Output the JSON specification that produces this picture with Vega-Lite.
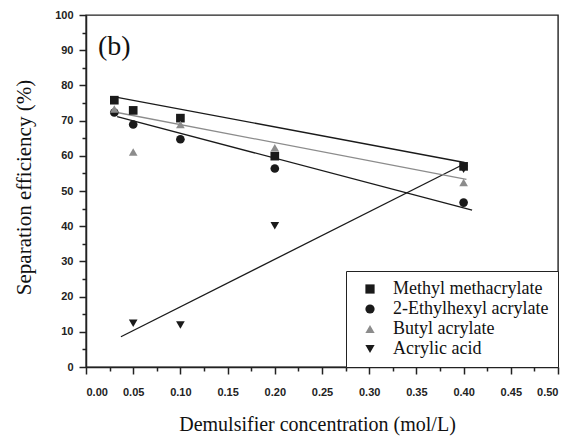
{
  "$schema": "https://vega.github.io/schema/vega-lite/v6.json",
  "width": 472,
  "height": 352,
  "autosize": "none",
  "padding": {"left": 86, "top": 15, "right": 13, "bottom": 70},
  "background": "white",
  "config": {
    "view": {"stroke": "#222", "strokeWidth": 1.4},
    "axis": {
      "domainColor": "#222", "domainWidth": 1.5, "tickColor": "#222", "tickWidth": 1.5,
      "labelColor": "#222", "labelFont": "Liberation Sans", "labelFontWeight": "bold", "labelFontSize": 11,
      "titleFont": "Liberation Serif", "titleFontWeight": "normal", "titleColor": "#111",
      "grid": false
    },
    "legend": {
      "labelFont": "Liberation Serif", "labelFontSize": 18, "labelColor": "#111",
      "strokeColor": "#222", "fillColor": "white", "padding": 9, "rowPadding": 2,
      "symbolSize": 85, "symbolOffset": 6, "labelOffset": 14
    }
  },
  "datasets": {
    "pts": [
      {"c": 0.03, "e": 75.8, "s": "Methyl methacrylate"},
      {"c": 0.05, "e": 72.9, "s": "Methyl methacrylate"},
      {"c": 0.10, "e": 70.7, "s": "Methyl methacrylate"},
      {"c": 0.20, "e": 59.9, "s": "Methyl methacrylate"},
      {"c": 0.40, "e": 57.0, "s": "Methyl methacrylate"},
      {"c": 0.03, "e": 72.3, "s": "2-Ethylhexyl acrylate"},
      {"c": 0.05, "e": 68.9, "s": "2-Ethylhexyl acrylate"},
      {"c": 0.10, "e": 64.7, "s": "2-Ethylhexyl acrylate"},
      {"c": 0.20, "e": 56.4, "s": "2-Ethylhexyl acrylate"},
      {"c": 0.40, "e": 46.7, "s": "2-Ethylhexyl acrylate"},
      {"c": 0.03, "e": 73.3, "s": "Butyl acrylate"},
      {"c": 0.05, "e": 61.1, "s": "Butyl acrylate"},
      {"c": 0.10, "e": 68.9, "s": "Butyl acrylate"},
      {"c": 0.20, "e": 62.3, "s": "Butyl acrylate"},
      {"c": 0.40, "e": 52.4, "s": "Butyl acrylate"},
      {"c": 0.05, "e": 12.4, "s": "Acrylic acid"},
      {"c": 0.10, "e": 11.9, "s": "Acrylic acid"},
      {"c": 0.20, "e": 40.1, "s": "Acrylic acid"},
      {"c": 0.40, "e": 56.2, "s": "Acrylic acid"}
    ],
    "fits": [
      {"c": 0.033, "e": 76.6, "s": "Methyl methacrylate"},
      {"c": 0.401, "e": 58.1, "s": "Methyl methacrylate"},
      {"c": 0.033, "e": 71.1, "s": "2-Ethylhexyl acrylate"},
      {"c": 0.409, "e": 44.6, "s": "2-Ethylhexyl acrylate"},
      {"c": 0.033, "e": 72.3, "s": "Butyl acrylate"},
      {"c": 0.403, "e": 53.3, "s": "Butyl acrylate"},
      {"c": 0.037, "e": 8.6, "s": "Acrylic acid"},
      {"c": 0.400, "e": 57.6, "s": "Acrylic acid"}
    ],
    "label": [{"c": 0.0127, "e": 90.8, "t": "(b)"}]
  },
  "encoding": {
    "x": {"field": "c", "type": "quantitative", "scale": {"domain": [0, 0.5], "nice": false},
      "axis": {"orient": "bottom",
        "values": [0, 0.025, 0.05, 0.075, 0.1, 0.125, 0.15, 0.175, 0.2, 0.225, 0.25, 0.275, 0.3, 0.325, 0.35, 0.375, 0.4, 0.425, 0.45, 0.475, 0.5],
        "labelExpr": "round(datum.value*1000) % 50 == 0 ? format(datum.value, '.2f') : ''",
        "tickSize": {"condition": {"test": "round(datum.value*1000) % 50 != 0", "value": 4}, "value": 7},
        "labelPadding": 12, "title": "Demulsifier concentration (mol/L)", "titleFontSize": 20, "titlePadding": 17, "titleX": 231}},
    "y": {"field": "e", "type": "quantitative", "scale": {"domain": [0, 100], "nice": false},
      "axis": {"orient": "left",
        "values": [0, 5, 10, 15, 20, 25, 30, 35, 40, 45, 50, 55, 60, 65, 70, 75, 80, 85, 90, 95, 100],
        "labelExpr": "datum.value % 10 == 0 ? datum.label : ''",
        "tickSize": {"condition": {"test": "datum.value % 10 != 0", "value": 4}, "value": 7},
        "labelPadding": 6, "title": "Separation efficiency (%)", "titleFontSize": 21, "titlePadding": 20, "titleY": 172}}
  },
  "layer": [
    {
      "data": {"name": "fits"},
      "transform": [{"filter": "datum.s != 'Butyl acrylate'"}],
      "mark": {"type": "line", "strokeWidth": 1.3, "stroke": "#1a1a1a"},
      "encoding": {"detail": {"field": "s"}}
    },
    {
      "data": {"name": "fits"},
      "transform": [{"filter": "datum.s == 'Butyl acrylate'"}],
      "mark": {"type": "line", "strokeWidth": 1.3, "stroke": "#8c8c8c"},
      "encoding": {}
    },
    {
      "data": {"name": "pts"},
      "mark": {"type": "point", "filled": true, "opacity": 1, "size": 75},
      "encoding": {
        "shape": {"field": "s", "type": "nominal",
          "scale": {"domain": ["Methyl methacrylate", "2-Ethylhexyl acrylate", "Butyl acrylate", "Acrylic acid"], "range": ["square", "circle", "triangle-up", "triangle-down"]},
          "legend": {"title": null, "orient": "bottom-right", "offset": 0}},
        "color": {"field": "s", "type": "nominal",
          "scale": {"domain": ["Methyl methacrylate", "2-Ethylhexyl acrylate", "Butyl acrylate", "Acrylic acid"], "range": ["#1a1a1a", "#1a1a1a", "#8c8c8c", "#1a1a1a"]},
          "legend": {"title": null, "orient": "bottom-right", "offset": 0}}
      }
    },
    {
      "data": {"name": "label"},
      "mark": {"type": "text", "align": "left", "baseline": "middle", "font": "Liberation Serif", "fontSize": 28, "color": "#111"},
      "encoding": {
        "text": {"field": "t"}
      }
    }
  ]
}
